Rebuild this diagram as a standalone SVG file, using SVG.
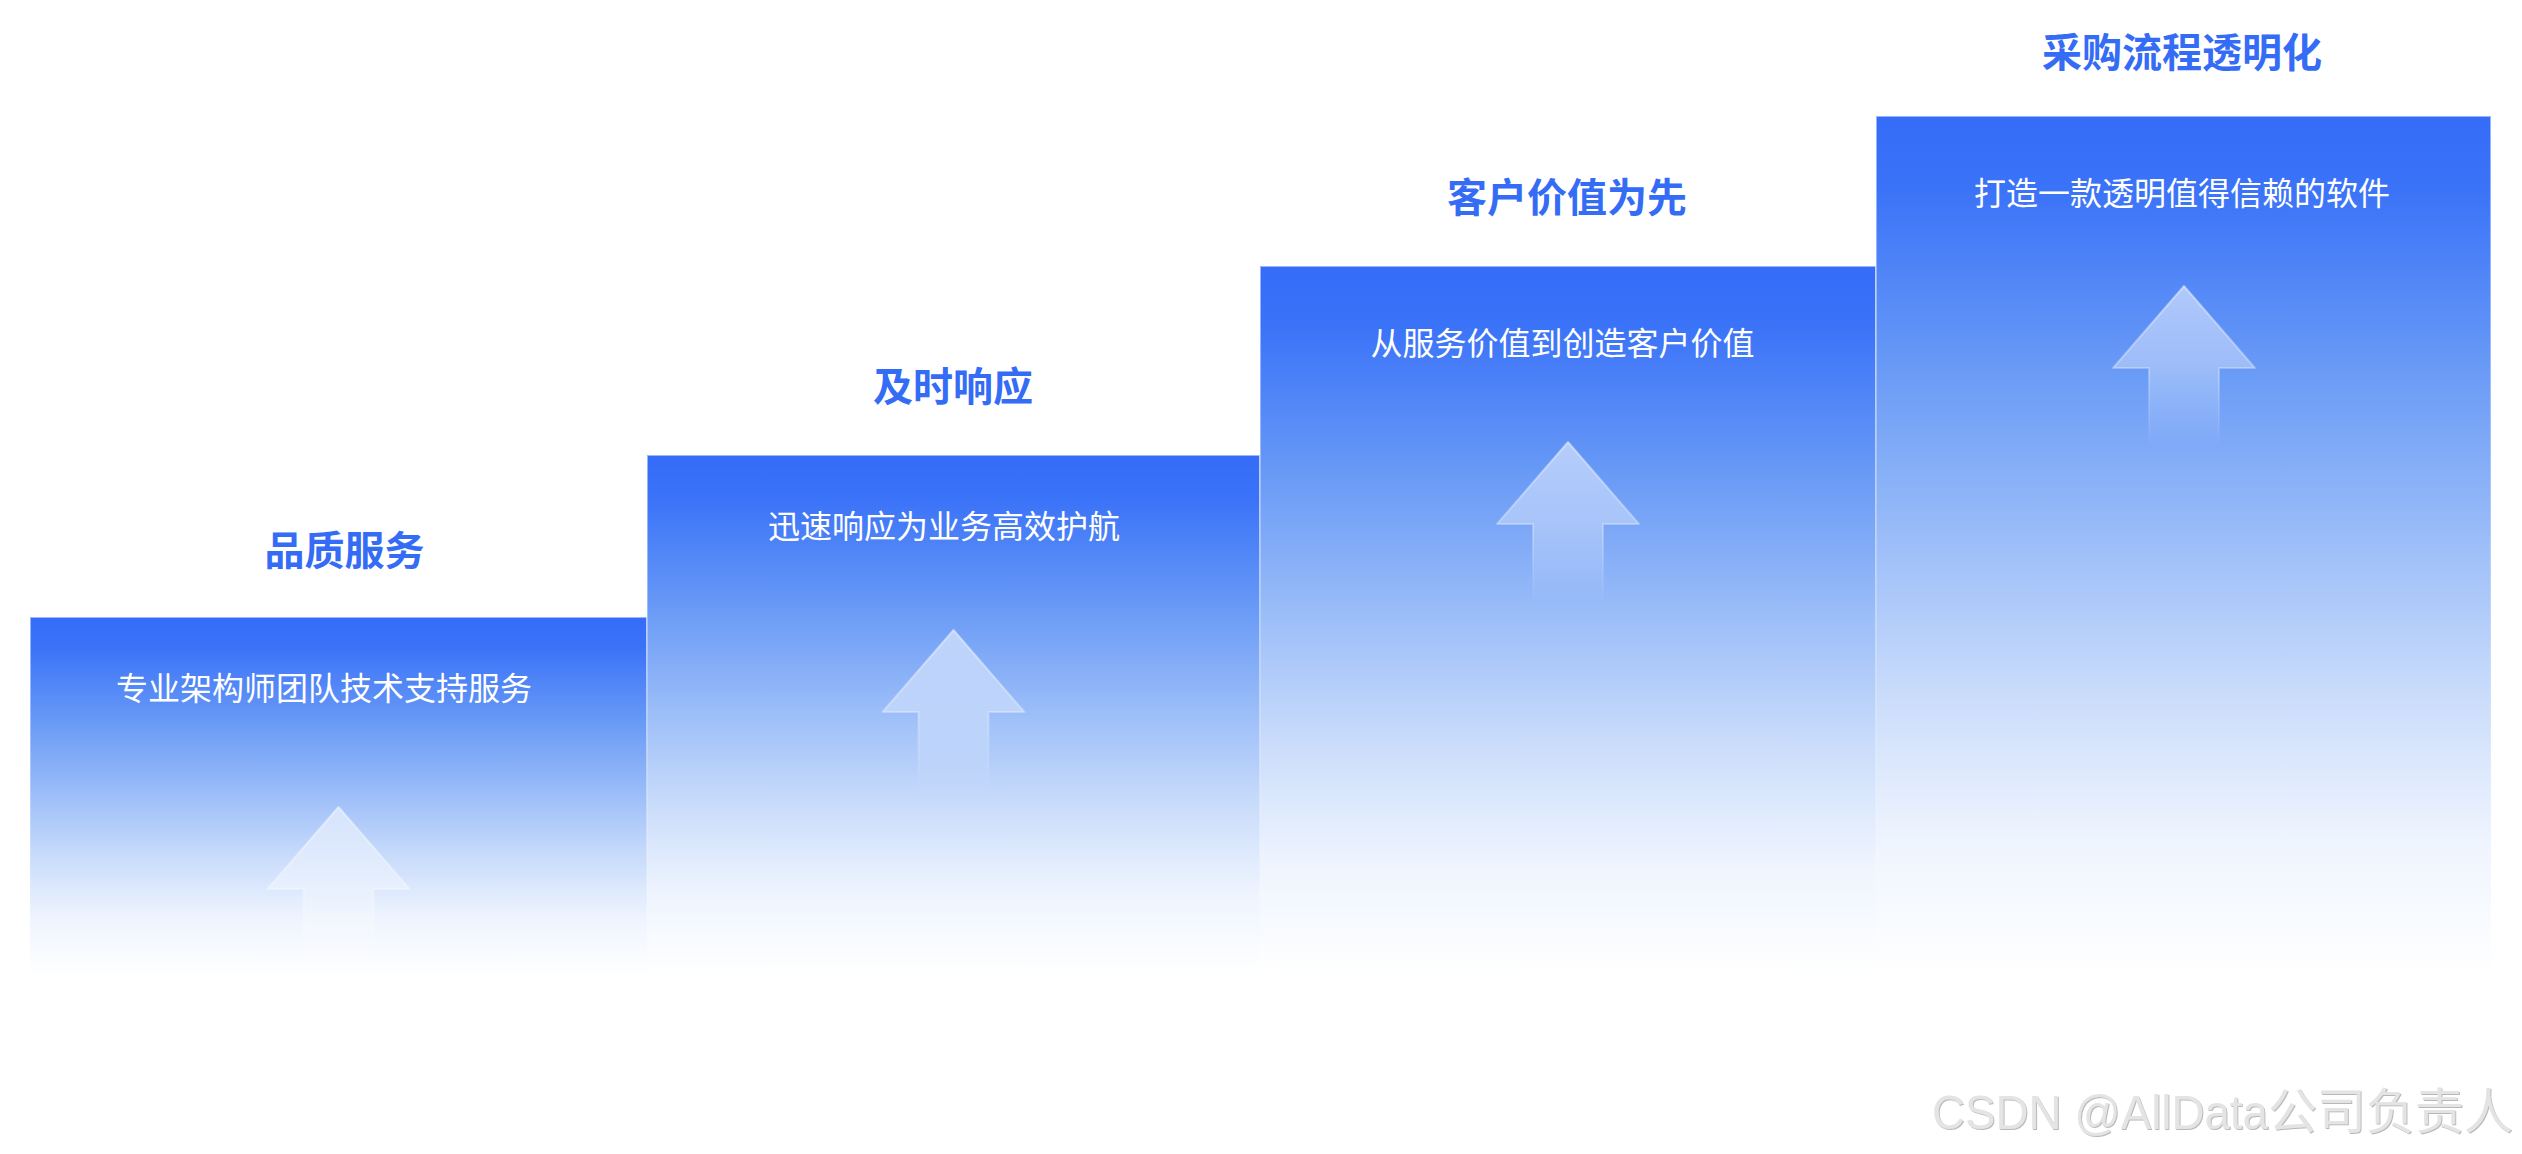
<svg xmlns="http://www.w3.org/2000/svg" width="2522" height="1154" viewBox="0 0 2522 1154">
<style>
.t{font-family:"Noto Sans CJK SC","Noto Sans",sans-serif;font-size:40px;font-weight:700;fill:#356cf6;text-anchor:middle}
.s{font-family:"Noto Sans CJK SC","Noto Sans",sans-serif;font-size:32px;font-weight:400;fill:#fff;text-anchor:middle}
.b{fill:url(#fill);stroke:none}
.e{fill:none;stroke:url(#edge);stroke-width:2}
.a{fill:url(#af);stroke:url(#as);stroke-width:2;stroke-linejoin:round}
.w{font-family:"Liberation Sans","Noto Sans CJK SC",sans-serif;font-size:49px;fill:#e4e4e4;filter:url(#emb)}
</style>
<defs>
<linearGradient id="fill" x1="0" y1="0" x2="0" y2="1">
<stop offset="0" stop-color="#356cf8"/><stop offset="0.08" stop-color="#3a72f8"/><stop offset="0.3" stop-color="#6a9bf6"/><stop offset="0.48" stop-color="#98bbf8"/><stop offset="0.68" stop-color="#cbddfb"/><stop offset="0.84" stop-color="#eef4fe"/><stop offset="1" stop-color="#fff"/>
</linearGradient>
<linearGradient id="edge" x1="0" y1="0" x2="0" y2="1">
<stop offset="0" stop-color="#fff" stop-opacity=".5"/><stop offset="1" stop-color="#fff" stop-opacity="0"/>
</linearGradient>
<linearGradient id="af" x1="0" y1="0" x2="0" y2="1">
<stop offset="0" stop-color="#fff" stop-opacity=".55"/><stop offset=".5" stop-color="#fff" stop-opacity=".35"/><stop offset="1" stop-color="#fff" stop-opacity="0"/>
</linearGradient>
<linearGradient id="as" x1="0" y1="0" x2="0" y2="1">
<stop offset="0" stop-color="#fff" stop-opacity=".45"/><stop offset=".5" stop-color="#fff" stop-opacity=".3"/><stop offset="1" stop-color="#fff" stop-opacity="0"/>
</linearGradient>
<path id="arrow" class="a" d="M0 0L71 82H35V160H-35V82H-71Z"/>
<filter id="emb" x="-5%" y="-20%" width="110%" height="140%"><feDropShadow dx="1" dy="1" stdDeviation=".5" flood-color="#9a9a9a" flood-opacity=".7"/></filter>
</defs>
<rect width="2522" height="1154" fill="#fff"/>
<g id="connectors"/>
<g id="step1">
<rect class="b" x="30" y="617" width="617" height="358"/>
<rect class="e" x="30" y="617" width="617" height="358"/>
<use href="#arrow" x="338.500" y="807"/>
<text class="t" x="344.500" y="565">品质服务</text>
<text class="s" x="324" y="700">专业架构师团队技术支持服务</text>
</g>
<g id="step2">
<rect class="b" x="647" y="455" width="613" height="520"/>
<rect class="e" x="647" y="455" width="613" height="520"/>
<use href="#arrow" x="953.500" y="630"/>
<text class="t" x="953" y="401">及时响应</text>
<text class="s" x="944" y="538">迅速响应为业务高效护航</text>
</g>
<g id="step3">
<rect class="b" x="1260" y="266" width="616" height="709"/>
<rect class="e" x="1260" y="266" width="616" height="709"/>
<use href="#arrow" x="1568" y="442"/>
<text class="t" x="1567" y="212">客户价值为先</text>
<text class="s" x="1562.500" y="355">从服务价值到创造客户价值</text>
</g>
<g id="step4">
<rect class="b" x="1876" y="116" width="615" height="859"/>
<rect class="e" x="1876" y="116" width="615" height="859"/>
<use href="#arrow" x="2184" y="286"/>
<text class="t" x="2182" y="67">采购流程透明化</text>
<text class="s" x="2182" y="205">打造一款透明值得信赖的软件</text>
</g>
<text class="w" x="1932" y="1129"><tspan textLength="336" lengthAdjust="spacingAndGlyphs">CSDN @AllData</tspan><tspan x="2268">公司负责人</tspan></text>
</svg>
